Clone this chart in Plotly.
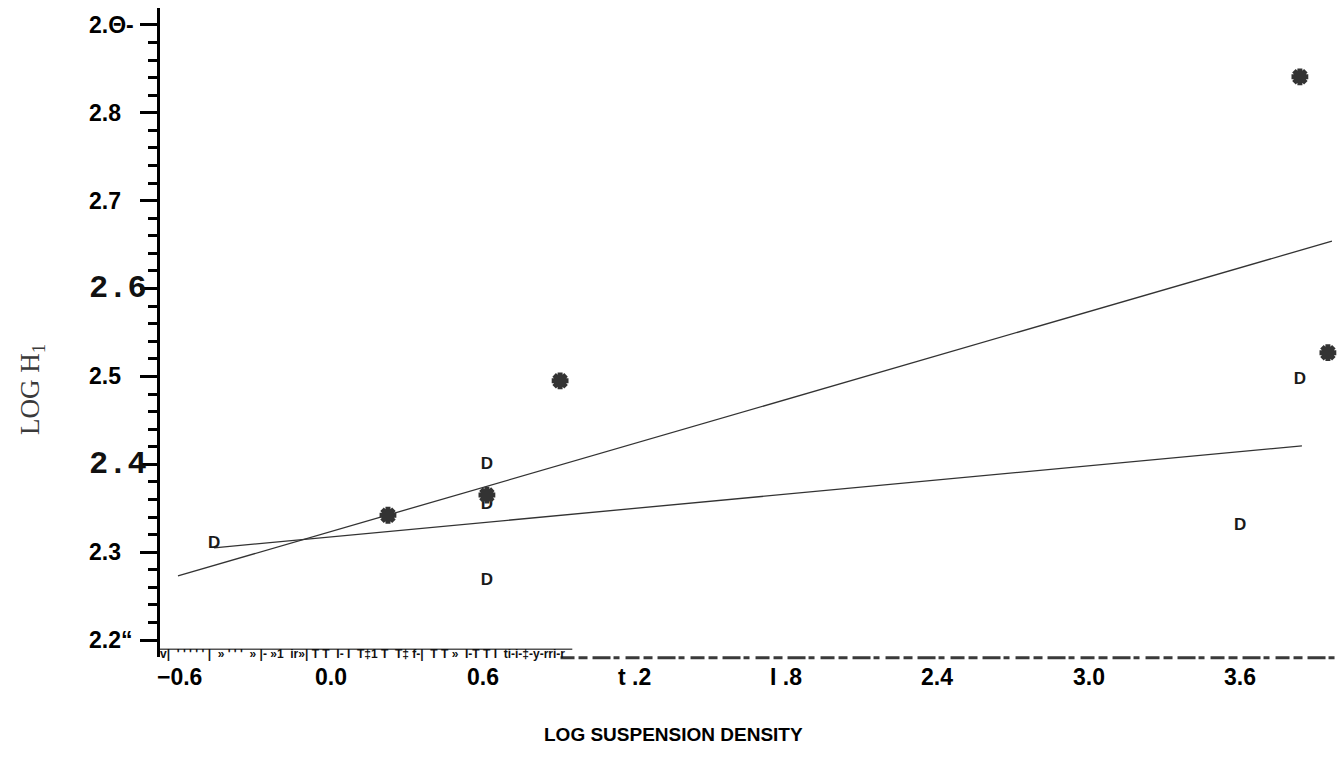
import plotly.graph_objects as go

# ---- data ----
d_x = [-0.465, 0.616, 0.616, 0.616, 3.600, 3.837]
d_y = [2.310, 2.400, 2.354, 2.268, 2.330, 2.496]

star_x = [0.224, 0.616, 0.906, 3.837, 3.948]
star_y = [2.342, 2.365, 2.495, 2.841, 2.527]

fit1_x = [-0.608, 3.964]
fit1_y = [2.273, 2.654]
fit2_x = [-0.465, 3.845]
fit2_y = [2.305, 2.421]

x_tick_vals = [-0.6, 0.0, 0.6, 1.2, 1.8, 2.4, 3.0, 3.6]
x_tick_text = ["\u22120.6", "0.0", "0.6", "t .2", "I .8", "2.4", "3.0", "3.6"]
y_tick_vals = [2.2, 2.3, 2.4, 2.5, 2.6, 2.7, 2.8, 2.9]
y_tick_text = ["2.2\u201c", "2.3", "2.4", "2.5", "2.6", "2.7", "2.8", "2.\u0398-"]
mono_labels = ["2.4", "2.6"]

axis_noise = "v|  ' ' ' ' ' |  \u00bb ' ' '  \u00bb |- \u00bb1  ir\u00bb| T T  I- I  T\u20211 T  T\u2021 f-|  T T \u00bb  I-T T I  ti-i-\u2021-y-rri-r"

x_title = "LOG SUSPENSION DENSITY"
y_title = "LOG H<sub>1</sub>"

fig = go.Figure()

fig.add_trace(go.Scatter(x=fit1_x, y=fit1_y, mode="lines",
                         line=dict(color="#333333", width=1.3), showlegend=False, hoverinfo="skip"))
fig.add_trace(go.Scatter(x=fit2_x, y=fit2_y, mode="lines",
                         line=dict(color="#333333", width=1.3), showlegend=False, hoverinfo="skip"))

fig.add_trace(go.Scatter(x=d_x, y=d_y, mode="text", text=["D"] * len(d_x),
                         textfont=dict(family="Liberation Sans", size=17, color="#1a1a1a", weight="bold"),
                         textposition="middle center", showlegend=False))
fig.add_trace(go.Scatter(x=star_x, y=star_y, mode="markers",
                         marker=dict(symbol="asterisk-open", size=14, color="#333333",
                                     line=dict(color="#333333", width=5)),
                         showlegend=False))

fig.update_layout(
    width=1338, height=777, autosize=False,
    margin=dict(l=160, r=0, t=8, b=120),
    paper_bgcolor="white", plot_bgcolor="white",
    xaxis=dict(range=[-0.6792, 3.988], showgrid=False, zeroline=False,
               showline=False, showticklabels=False, ticks=""),
    yaxis=dict(range=[2.1807, 2.9193], showgrid=False, zeroline=False,
               showline=True, linecolor="black", linewidth=3, mirror=False,
               showticklabels=False, ticks="outside", tick0=2.2, dtick=0.1,
               ticklen=17, tickwidth=3, tickcolor="black",
               minor=dict(ticks="outside", tick0=2.2, dtick=0.02, ticklen=9,
                          tickwidth=3, tickcolor="black")),
)

annotations = []
for v, t in zip(y_tick_vals, y_tick_text):
    if t in mono_labels:
        font = dict(family="Liberation Mono", size=32, color="#111111")
    else:
        font = dict(family="Liberation Sans", size=23, color="black")
    annotations.append(dict(x=0, xref="paper", y=v, yref="y", xanchor="left", yanchor="middle",
                            xshift=-73, text="<b>%s</b>" % t, showarrow=False, font=font))

for v, t in zip(x_tick_vals, x_tick_text):
    annotations.append(dict(x=v, xref="x", y=0, yref="paper", xanchor="center", yanchor="middle",
                            yshift=-20, text="<b>%s</b>" % t, showarrow=False,
                            font=dict(family="Liberation Sans", size=23, color="black")))

annotations.append(dict(x=0, xref="paper", y=0, yref="paper", xanchor="left", yanchor="middle",
                        xshift=-2, yshift=3, text="<b>%s</b>" % axis_noise, showarrow=False,
                        font=dict(family="Liberation Sans", size=12, color="#111111")))

annotations.append(dict(x=(673 - 160) / 1178, xref="paper", y=0, yref="paper",
                        xanchor="center", yanchor="middle", yshift=-77,
                        text="<b>%s</b>" % x_title, showarrow=False,
                        font=dict(family="Liberation Sans", size=19, color="black")))

annotations.append(dict(x=0, xref="paper", y=(657 - 390) / 649, yref="paper",
                        xanchor="center", yanchor="middle", xshift=-128, textangle=-90,
                        text=y_title, showarrow=False,
                        font=dict(family="Liberation Serif", size=27, color="#3a3a3a")))

fig.update_layout(annotations=annotations)

fig.add_shape(type="line", xref="paper", yref="paper", x0=0.34, x1=1.0, y0=-0.001, y1=-0.001,
              line=dict(color="#3a3a3a", width=3, dash="14px,4px,9px,5px,18px,3px,6px,6px"))
fig.add_shape(type="line", xref="paper", yref="paper", x0=0.0, x1=0.35, y0=0.012, y1=0.012,
              line=dict(color="#555555", width=1.5))

fig.write_html("out.html")
